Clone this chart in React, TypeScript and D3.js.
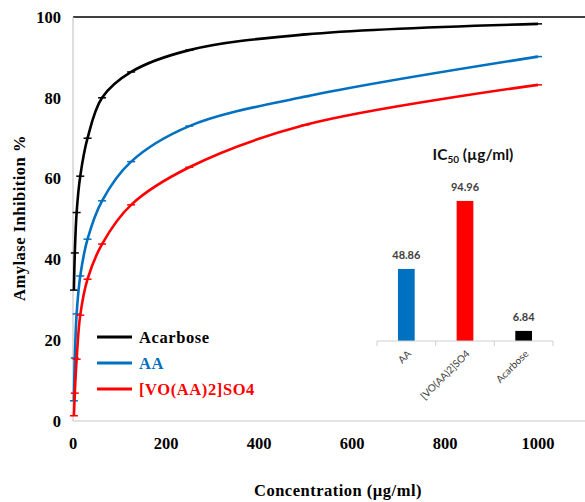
import React from "react";
import * as d3 from "d3";

const concentrations = [1.95, 3.9, 7.8, 15.6, 31.25, 62.5, 125, 250, 500, 1000];
const acarbose = [32.4, 41.6, 51.6, 60.6, 70, 80, 86.4, 91.8, 95.7, 98.3];
const aa = [5, 15.6, 26.5, 35.9, 45, 54.5, 64.2, 73, 80.3, 90.2];
const voaa = [1.3, 6.9, 15.3, 26.2, 35.1, 43.8, 53.5, 62.8, 73.3, 83.2];

const seriesNames = ["Acarbose", "AA", "[VO(AA)2]SO4"];
const seriesColors = ["#000000", "#0070C0", "#FF0000"];

const xTicks = [0, 200, 400, 600, 800, 1000];
const yTicks = [0, 20, 40, 60, 80, 100];

const icCategories = ["AA", "[VO(AA)2]SO4", "Acarbose"];
const icValues = [48.86, 94.96, 6.84];
const icLabels = ["48.86", "94.96", "6.84"];
const icColors = ["#0070C0", "#FF0000", "#000000"];

const W = 585;
const H = 502;
const serif = "'Liberation Serif', 'Times New Roman', serif";
const sans = "Lato, 'Liberation Sans', sans-serif";

export default function App() {
  const x = d3.scaleLinear().domain([0, 1000]).range([73, 538]);
  const y = d3.scaleLinear().domain([0, 100]).range([421, 17]);
  const line = d3
    .line<number>()
    .x((_, i) => x(concentrations[i]))
    .y((d) => y(d))
    .curve(d3.curveCatmullRom.alpha(0.5));
  const series = [acarbose, aa, voaa];

  const bx = d3.scaleBand<string>().domain(icCategories).range([377, 553]);
  const by = d3.scaleLinear().domain([0, 100]).range([341, 193.5]);
  const barW = bx.bandwidth() * 0.285;

  return (
    <svg width={W} height={H} style={{ position: "absolute", left: 0, top: 0, background: "#fff" }}>
      <rect width={W} height={H} fill="#fff" />
      {/* axes */}
      <line x1={73} x2={585} y1={17} y2={17} stroke="#000" strokeWidth={1.6} />
      <line x1={73} x2={73} y1={17} y2={421} stroke="#c8c8c8" strokeWidth={1.2} />
      <line x1={73} x2={585} y1={421} y2={421} stroke="#c8c8c8" strokeWidth={1.2} />
      {yTicks.map((t) => (
        <text key={t} x={61} y={y(t)} dy="0.35em" textAnchor="end" fontFamily={serif} fontWeight="bold" fontSize={16.5}>
          {t}
        </text>
      ))}
      {xTicks.map((t) => (
        <text key={t} x={x(t)} y={443} dy="0.35em" textAnchor="middle" fontFamily={serif} fontWeight="bold" fontSize={16.5}>
          {t}
        </text>
      ))}
      <text
        transform={`translate(19,218) rotate(-90)`}
        textAnchor="middle"
        dy="0.35em"
        fontFamily={serif}
        fontWeight="bold"
        fontSize={16.5}
        letterSpacing={0.5}
      >
        Amylase Inhibition %
      </text>
      <text x={338} y={490} dy="0.35em" textAnchor="middle" fontFamily={serif} fontWeight="bold" fontSize={16.5} letterSpacing={0.5}>
        Concentration (µg/ml)
      </text>

      {/* curves */}
      {series.map((s, si) => (
        <g key={si}>
          <path d={line(s) || ""} fill="none" stroke={seriesColors[si]} strokeWidth={2.6} />
          {s.map((v, i) => (
            <line
              key={i}
              x1={x(concentrations[i]) - 4}
              x2={x(concentrations[i]) + 4}
              y1={y(v)}
              y2={y(v)}
              stroke={seriesColors[si]}
              strokeWidth={1.5}
            />
          ))}
        </g>
      ))}

      {/* legend */}
      {seriesNames.map((n, i) => (
        <g key={n}>
          <line x1={97} x2={132} y1={337 + i * 26} y2={337 + i * 26} stroke={seriesColors[i]} strokeWidth={3} />
          <text
            x={139}
            y={337 + i * 26}
            dy="0.35em"
            fill={seriesColors[i]}
            fontFamily={serif}
            fontWeight="bold"
            fontSize={16.5}
            letterSpacing={0.6}
          >
            {n}
          </text>
        </g>
      ))}

      {/* inset IC50 chart */}
      <text x={473} y={155} dy="0.35em" textAnchor="middle" fontFamily={sans} fontWeight="bold" fontSize={15.5} fill="#111">
        IC<tspan fontSize={10} dy="3">50</tspan>
        <tspan dy="-3"> (µg/ml)</tspan>
      </text>
      {icCategories.map((c, i) => {
        const cx = (bx(c) || 0) + bx.bandwidth() / 2;
        return (
          <g key={c}>
            <rect x={cx - barW / 2} y={by(icValues[i])} width={barW} height={by(0) - by(icValues[i])} fill={icColors[i]} />
            <text
              x={cx}
              y={by(icValues[i]) - 14}
              dy="0.35em"
              textAnchor="middle"
              fontFamily={sans}
              fontWeight="bold"
              fontSize={11}
              fill="#404040"
            >
              {icLabels[i]}
            </text>
            <text
              transform={`translate(${cx + 3},${352}) rotate(-45)`}
              textAnchor="end"
              dy="0.35em"
              fontFamily={sans}
              fontSize={10}
              fill="#404040"
            >
              {c}
            </text>
          </g>
        );
      })}
      <line x1={377} x2={553} y1={341} y2={341} stroke="#d0d0d0" strokeWidth={1} />
      {[...icCategories.map((c) => bx(c) || 0), 553].map((t, i) => (
        <line key={i} x1={t} x2={t} y1={341} y2={346} stroke="#d0d0d0" strokeWidth={1} />
      ))}
    </svg>
  );
}
